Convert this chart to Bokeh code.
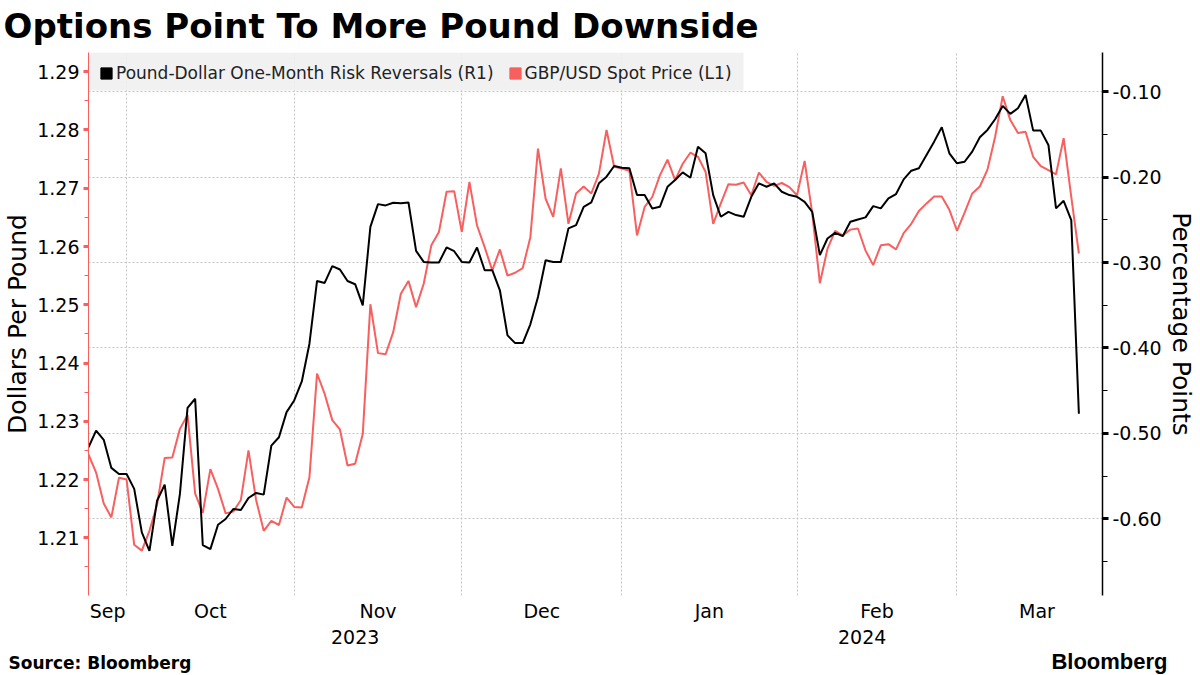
import pandas as pd
from bokeh.plotting import figure
from bokeh.layouts import column
from bokeh.models import (ColumnDataSource, Range1d, LinearAxis, FixedTicker,
                          PrintfTickFormatter, Legend, LegendItem, BoxAnnotation)
from bokeh.core.properties import value
from bokeh.embed import file_html
from bokeh.resources import INLINE

# business days shown on the chart (Bloomberg drops weekends)
dates = pd.bdate_range("2023-09-25", "2024-03-25")

# GBP/USD spot, left axis
spot = [
    1.2243, 1.2212, 1.2159, 1.2135, 1.2203, 1.2200, 1.2088, 1.2078, 1.2112, 1.2157,
    1.2237, 1.2238, 1.2287, 1.2311, 1.2176, 1.2143, 1.2218, 1.2184, 1.2142, 1.2145,
    1.2165, 1.2250, 1.2165, 1.2112, 1.2129, 1.2122, 1.2169, 1.2153, 1.2152, 1.2204,
    1.2382, 1.2347, 1.2302, 1.2286, 1.2224, 1.2227, 1.2278, 1.2501, 1.2417, 1.2415,
    1.2453, 1.2519, 1.2541, 1.2496, 1.2536, 1.2602, 1.2625, 1.2694, 1.2695, 1.2625,
    1.2711, 1.2636, 1.2599, 1.2559, 1.2595, 1.2550, 1.2555, 1.2563, 1.2616, 1.2768,
    1.2682, 1.2651, 1.2734, 1.2639, 1.2691, 1.2703, 1.2691, 1.2725, 1.2800, 1.2737,
    1.2734, 1.2730, 1.2619, 1.2668, 1.2685, 1.2722, 1.2749, 1.2714, 1.2742, 1.2761,
    1.2754, 1.2728, 1.2639, 1.2674, 1.2707, 1.2706, 1.2710, 1.2688, 1.2727, 1.2711,
    1.2704, 1.2709, 1.2702, 1.2688, 1.2747, 1.2657, 1.2537, 1.2596, 1.2627, 1.2619,
    1.2629, 1.2631, 1.2593, 1.2568, 1.2602, 1.2604, 1.2595, 1.2623, 1.2639, 1.2661,
    1.2674, 1.2686, 1.2686, 1.2663, 1.2627, 1.2658, 1.2691, 1.2703, 1.2732, 1.2788,
    1.2858, 1.2817, 1.2795, 1.2797, 1.2754, 1.2738, 1.2731, 1.2724, 1.2786, 1.2685,
    1.2588,
]

# one-month risk reversals, right axis
rr = [
    -0.5162, -0.4966, -0.5075, -0.5403, -0.5474, -0.5474, -0.5649, -0.6158, -0.6373, -0.5787,
    -0.5599, -0.6314, -0.5708, -0.4700, -0.4594, -0.6306, -0.6353, -0.6068, -0.6001, -0.5884,
    -0.5896, -0.5755, -0.5696, -0.5716, -0.5142, -0.5045, -0.4751, -0.4614, -0.4392, -0.3950,
    -0.3216, -0.3239, -0.3043, -0.3082, -0.3216, -0.3254, -0.3501, -0.2583, -0.2317, -0.2332,
    -0.2301, -0.2308, -0.2297, -0.2864, -0.2993, -0.3000, -0.3000, -0.2824, -0.2868, -0.2993,
    -0.3000, -0.2824, -0.3090, -0.3090, -0.3325, -0.3852, -0.3943, -0.3943, -0.3723, -0.3403,
    -0.2973, -0.2993, -0.2993, -0.2601, -0.2563, -0.2348, -0.2297, -0.2074, -0.1996, -0.1871,
    -0.1891, -0.1898, -0.2211, -0.2211, -0.2367, -0.2348, -0.2114, -0.2035, -0.1945, -0.2008,
    -0.1645, -0.1722, -0.2211, -0.2465, -0.2407, -0.2445, -0.2465, -0.2231, -0.2074, -0.2114,
    -0.2074, -0.2172, -0.2211, -0.2231, -0.2290, -0.2407, -0.2914, -0.2719, -0.2653, -0.2692,
    -0.2524, -0.2496, -0.2472, -0.2340, -0.2367, -0.2250, -0.2199, -0.2027, -0.1926, -0.1898,
    -0.1742, -0.1586, -0.1417, -0.1722, -0.1839, -0.1821, -0.1703, -0.1535, -0.1449, -0.1324,
    -0.1168, -0.1261, -0.1195, -0.1039, -0.1457, -0.1457, -0.1625, -0.2367, -0.2278, -0.2504,
    -0.4770,
]

month_names = ["Sep", "Oct", "Nov", "Dec", "Jan", "Feb", "Mar"]
year_names = ["2023", "2024"]
spot_ticks = [1.21, 1.22, 1.23, 1.24, 1.25, 1.26, 1.27, 1.28, 1.29]
spot_minor = [1.205, 1.215, 1.225, 1.235, 1.245, 1.255, 1.265, 1.275, 1.285]
rr_ticks = [-0.60, -0.50, -0.40, -0.30, -0.20, -0.10]
rr_minor = [-0.65, -0.55, -0.45, -0.35, -0.25, -0.15]
series_names = ["Pound-Dollar One-Month Risk Reversals (R1)", "GBP/USD Spot Price (L1)"]

RED = "#f85f5f"
FONT = "DejaVu Sans"
X_END = 133.1
W = 1200
Y0, Y1 = 1.2001, 1.2933

# month boundaries on the business-day index
full = pd.bdate_range("2023-09-25", "2024-03-29")
starts = [i for i in range(1, len(full)) if full[i].month != full[i - 1].month]
edges = [0] + starts + [len(full)]
month_mids = [(a + b) / 2 for a, b in zip(edges[:-1], edges[1:])]
jan = starts[3]
year_mids = [jan / 2, (jan + X_END) / 2]

src = ColumnDataSource(dict(i=list(range(len(dates))), spot=spot, rr=rr))


def text_strip(height):
    # a bare strip, frame = whole canvas, used for title and footer text
    f = figure(width=W, height=height, x_range=Range1d(0, W),
               y_range=Range1d(0, height), x_axis_type=None, y_axis_type=None,
               output_backend="svg", toolbar_location=None, tools="",
               min_border=0)
    f.frame_align = False
    f.grid.visible = False
    f.outline_line_color = None
    return f


# title strip (baseline nudged up, the glyph sits a bit low)
head = text_strip(52)
head.text(x=[3], y=[27], text=["Options Point To More Pound Downside"],
          text_font=value(FONT), text_font_size="34px", text_font_style="bold",
          text_baseline="alphabetic", text_color="black")

# main chart
p = figure(width=W, height=594, x_range=Range1d(0, X_END),
           y_range=Range1d(Y0, Y1), output_backend="svg",
           toolbar_location=None, tools="", min_border_left=88,
           min_border_right=98, min_border_top=0, min_border_bottom=51)
p.frame_align = False
p.extra_y_ranges = {"rr": Range1d(-0.6896, -0.0543)}
p.outline_line_color = None

# grid: vertical at month starts, horizontal at right-axis ticks
p.xgrid.ticker = FixedTicker(ticks=starts)
p.ygrid.y_range_name = "rr"
p.ygrid.ticker = FixedTicker(ticks=rr_ticks)
for g in (p.xgrid, p.ygrid):
    g.grid_line_color = "#c4c4c4"
    g.grid_line_dash = "2 2"
    g.grid_line_width = 1

# month axis
xa = p.xaxis[0]
xa.ticker = FixedTicker(ticks=month_mids)
xa.major_label_overrides = {m: n for m, n in zip(month_mids, month_names)}
xa.axis_line_color = None
xa.major_tick_line_color = None
xa.minor_tick_line_color = None
xa.major_label_standoff = -2
xa.major_label_text_font = FONT
xa.major_label_text_font_size = "19px"
xa.major_label_text_color = "black"

# year axis
ya = LinearAxis(ticker=FixedTicker(ticks=year_mids),
                major_label_overrides={m: n for m, n in zip(year_mids, year_names)},
                axis_line_color=None, major_tick_line_color=None,
                minor_tick_line_color=None, major_label_standoff=-1,
                major_label_text_font=FONT, major_label_text_font_size="19px",
                major_label_text_color="black")
p.add_layout(ya, "below")

# left axis (spot)
la = p.yaxis[0]
la.ticker = FixedTicker(ticks=spot_ticks, minor_ticks=spot_minor)
la.axis_line_color = RED
la.major_tick_line_color = RED
la.major_tick_line_width = 3
la.major_tick_out = 5
la.major_tick_in = 0
la.minor_tick_line_color = RED
la.minor_tick_out = 4
la.minor_tick_in = 0
la.major_label_standoff = 4
la.major_label_text_font = FONT
la.major_label_text_font_size = "19px"
la.major_label_text_color = "black"
la.axis_label = "Dollars Per Pound"
la.axis_label_text_font = FONT
la.axis_label_text_font_size = "25px"
la.axis_label_text_font_style = "normal"
la.axis_label_text_color = "black"
la.axis_label_standoff = 2

# right axis (risk reversals)
ra = LinearAxis(y_range_name="rr",
                ticker=FixedTicker(ticks=rr_ticks, minor_ticks=rr_minor),
                formatter=PrintfTickFormatter(format="%.2f"),
                axis_line_color="black", axis_line_width=1.5,
                major_tick_line_color="black", major_tick_line_width=3,
                major_tick_out=6, major_tick_in=0,
                minor_tick_line_color="black", minor_tick_out=5, minor_tick_in=0,
                major_label_standoff=4, major_label_text_font=FONT,
                major_label_text_font_size="19px", major_label_text_color="black",
                axis_label="Percentage Points", axis_label_text_font=FONT,
                axis_label_text_font_size="25px", axis_label_text_font_style="normal",
                axis_label_text_color="black", axis_label_standoff=2)
p.add_layout(ra, "right")

p.line("i", "spot", source=src, line_color=RED, line_width=2)
p.line("i", "rr", source=src, y_range_name="rr", line_color="black", line_width=2)

# grey legend band along the top of the frame
band_h = (Y1 - Y0) * 38 / 542
p.add_layout(BoxAnnotation(left=0, right=655, left_units="screen", right_units="screen",
                           top=Y1, bottom=Y1 - band_h, fill_color="#efefef",
                           fill_alpha=0.9, line_color=None, level="underlay"))

# legend swatches (a NaN row so nothing shows in the plot)
nan = float("nan")
k1 = p.quad(left=[nan], right=[nan], top=[nan], bottom=[nan], color="black")
k2 = p.quad(left=[nan], right=[nan], top=[nan], bottom=[nan], color=RED)
legend = Legend(items=[
    LegendItem(label=series_names[0], renderers=[k1]),
    LegendItem(label=series_names[1], renderers=[k2]),
], location="top_left", orientation="horizontal", margin=11, padding=0,
    spacing=14, glyph_width=14, glyph_height=14, label_standoff=3,
    label_height=16, label_text_font=FONT, label_text_font_size="17px",
    label_text_color="#222222", background_fill_alpha=0,
    border_line_color=None)
p.add_layout(legend)

# footer strip
foot = text_strip(29)
foot.text(x=[8], y=[13], text=["Source: Bloomberg"], text_font=value(FONT),
          text_font_size="17px", text_font_style="bold",
          text_baseline="alphabetic", text_color="black")
foot.text(x=[1167], y=[14], text=["Bloomberg"], text_font=value("Liberation Sans"),
          text_font_size="22px", text_font_style="bold", text_align="right",
          text_baseline="alphabetic", text_color="black")

layout = column(head, p, foot, spacing=0)
open("out.html", "w").write(file_html(layout, INLINE))
